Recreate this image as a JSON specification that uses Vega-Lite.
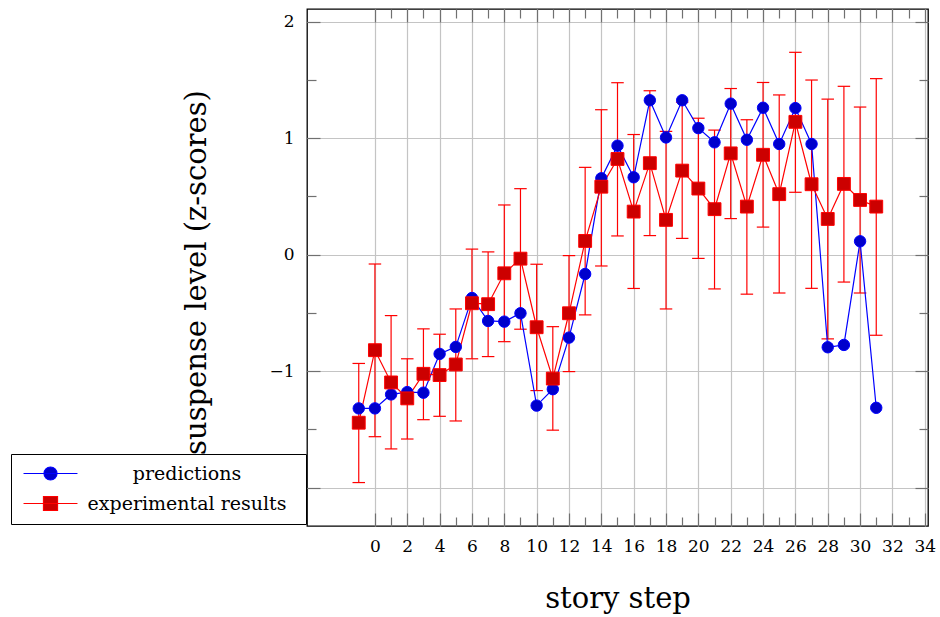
{
  "$schema": "https://vega.github.io/schema/vega-lite/v6.json",
  "width": 621,
  "height": 517,
  "autosize": {"type": "none"},
  "padding": {"left": 307, "top": 9, "right": 12, "bottom": 91},
  "background": "white",
  "data": {
    "values": [
      {"step": -1, "series": "predictions", "value": -1.32},
      {"step": 0, "series": "predictions", "value": -1.32},
      {"step": 1, "series": "predictions", "value": -1.2},
      {"step": 2, "series": "predictions", "value": -1.18},
      {"step": 3, "series": "predictions", "value": -1.185},
      {"step": 4, "series": "predictions", "value": -0.852},
      {"step": 5, "series": "predictions", "value": -0.792},
      {"step": 6, "series": "predictions", "value": -0.372},
      {"step": 7, "series": "predictions", "value": -0.569},
      {"step": 8, "series": "predictions", "value": -0.575},
      {"step": 9, "series": "predictions", "value": -0.503},
      {"step": 10, "series": "predictions", "value": -1.296},
      {"step": 11, "series": "predictions", "value": -1.155},
      {"step": 12, "series": "predictions", "value": -0.712},
      {"step": 13, "series": "predictions", "value": -0.166},
      {"step": 14, "series": "predictions", "value": 0.656},
      {"step": 15, "series": "predictions", "value": 0.936},
      {"step": 16, "series": "predictions", "value": 0.665},
      {"step": 17, "series": "predictions", "value": 1.326},
      {"step": 18, "series": "predictions", "value": 1.007},
      {"step": 19, "series": "predictions", "value": 1.326},
      {"step": 20, "series": "predictions", "value": 1.087},
      {"step": 21, "series": "predictions", "value": 0.965},
      {"step": 22, "series": "predictions", "value": 1.297},
      {"step": 23, "series": "predictions", "value": 0.987},
      {"step": 24, "series": "predictions", "value": 1.262},
      {"step": 25, "series": "predictions", "value": 0.951},
      {"step": 26, "series": "predictions", "value": 1.259},
      {"step": 27, "series": "predictions", "value": 0.951},
      {"step": 28, "series": "predictions", "value": -0.795},
      {"step": 29, "series": "predictions", "value": -0.775},
      {"step": 30, "series": "predictions", "value": 0.115},
      {"step": 31, "series": "predictions", "value": -1.315},
      {"step": -1, "series": "experimental results", "value": -1.443, "lo": -1.957, "hi": -0.934},
      {"step": 0, "series": "experimental results", "value": -0.82, "lo": -1.563, "hi": -0.08},
      {"step": 1, "series": "experimental results", "value": -1.097, "lo": -1.668, "hi": -0.523},
      {"step": 2, "series": "experimental results", "value": -1.234, "lo": -1.583, "hi": -0.894},
      {"step": 3, "series": "experimental results", "value": -1.023, "lo": -1.417, "hi": -0.637},
      {"step": 4, "series": "experimental results", "value": -1.034, "lo": -1.388, "hi": -0.683},
      {"step": 5, "series": "experimental results", "value": -0.943, "lo": -1.428, "hi": -0.466},
      {"step": 6, "series": "experimental results", "value": -0.417, "lo": -0.894, "hi": 0.048},
      {"step": 7, "series": "experimental results", "value": -0.425, "lo": -0.875, "hi": 0.024},
      {"step": 8, "series": "experimental results", "value": -0.16, "lo": -0.747, "hi": 0.427},
      {"step": 9, "series": "experimental results", "value": -0.034, "lo": -0.64, "hi": 0.567},
      {"step": 10, "series": "experimental results", "value": -0.623, "lo": -1.167, "hi": -0.082},
      {"step": 11, "series": "experimental results", "value": -1.064, "lo": -1.507, "hi": -0.618},
      {"step": 12, "series": "experimental results", "value": -0.503, "lo": -1.004, "hi": -0.008},
      {"step": 13, "series": "experimental results", "value": 0.118, "lo": -0.517, "hi": 0.75},
      {"step": 14, "series": "experimental results", "value": 0.584, "lo": -0.097, "hi": 1.245},
      {"step": 15, "series": "experimental results", "value": 0.822, "lo": 0.161, "hi": 1.477},
      {"step": 16, "series": "experimental results", "value": 0.37, "lo": -0.29, "hi": 1.032},
      {"step": 17, "series": "experimental results", "value": 0.786, "lo": 0.164, "hi": 1.408},
      {"step": 18, "series": "experimental results", "value": 0.299, "lo": -0.466, "hi": 1.059},
      {"step": 19, "series": "experimental results", "value": 0.722, "lo": 0.14, "hi": 1.31},
      {"step": 20, "series": "experimental results", "value": 0.568, "lo": -0.032, "hi": 1.172},
      {"step": 21, "series": "experimental results", "value": 0.391, "lo": -0.294, "hi": 1.07},
      {"step": 22, "series": "experimental results", "value": 0.87, "lo": 0.31, "hi": 1.427},
      {"step": 23, "series": "experimental results", "value": 0.413, "lo": -0.339, "hi": 1.159},
      {"step": 24, "series": "experimental results", "value": 0.858, "lo": 0.237, "hi": 1.479},
      {"step": 25, "series": "experimental results", "value": 0.52, "lo": -0.329, "hi": 1.372},
      {"step": 26, "series": "experimental results", "value": 1.141, "lo": 0.536, "hi": 1.738},
      {"step": 27, "series": "experimental results", "value": 0.605, "lo": -0.289, "hi": 1.5},
      {"step": 28, "series": "experimental results", "value": 0.307, "lo": -0.723, "hi": 1.336},
      {"step": 29, "series": "experimental results", "value": 0.608, "lo": -0.235, "hi": 1.446},
      {"step": 30, "series": "experimental results", "value": 0.47, "lo": -0.329, "hi": 1.268},
      {"step": 31, "series": "experimental results", "value": 0.413, "lo": -0.692, "hi": 1.512}
    ]
  },
  "resolve": {"axis": {"x": "independent", "y": "independent"}},
  "layer": [
    {
      "transform": [{"filter": "datum.series === 'experimental results'"}],
      "mark": {"type": "rule", "color": "#ff0000", "strokeWidth": 1.2},
      "encoding": {
        "x": {"field": "step", "type": "quantitative",
          "scale": {"domain": [-4.2, 34.2], "nice": false, "zero": false},
          "axis": {"orient": "bottom", "values": [0,2,4,6,8,10,12,14,16,18,20,22,24,26,28,30,32,34], "grid": true, "tickSize": -13, "labelPadding": 25, "labelFlush": false, "labelOverlap": false, "title": "story step", "titleY": 81, "titleBaseline": "alphabetic"}},
        "y": {"field": "lo", "type": "quantitative",
          "scale": {"domain": [-2.33, 2.11], "nice": false, "zero": false},
          "axis": {"orient": "left", "values": [-2,-1,0,1,2], "grid": true, "tickSize": -13, "labelPadding": 26, "labelFlush": false, "labelOverlap": false, "labelExpr": "datum.value === -2 ? '' : datum.label", "title": "suspense level (z-scores)", "titleX": -102, "titleY": 263, "titleBaseline": "alphabetic", "titleAngle": 270}},
        "y2": {"field": "hi"}
      }
    },
    {
      "transform": [{"filter": "datum.series === 'experimental results'"}],
      "mark": {"type": "tick", "orient": "horizontal", "color": "#ff0000", "size": 12.5, "thickness": 1.2, "opacity": 1},
      "encoding": {
        "x": {"field": "step", "type": "quantitative",
          "scale": {"domain": [-4.2, 34.2], "nice": false, "zero": false},
          "axis": {"orient": "bottom", "values": [1,3,5,7,9,11,13,15,17,19,21,23,25,27,29,31,33], "grid": false, "labels": false, "tickSize": -9, "title": null}},
        "y": {"field": "hi", "type": "quantitative",
          "scale": {"domain": [-2.33, 2.11], "nice": false, "zero": false},
          "axis": {"orient": "left", "values": [-1.5,-0.5,0.5,1.5], "grid": false, "labels": false, "tickSize": -9, "title": null}}
      }
    },
    {
      "transform": [{"filter": "datum.series === 'experimental results'"}],
      "mark": {"type": "tick", "orient": "horizontal", "color": "#ff0000", "size": 12.5, "thickness": 1.2, "opacity": 1},
      "encoding": {
        "x": {"field": "step", "type": "quantitative",
          "scale": {"domain": [-4.2, 34.2], "nice": false, "zero": false},
          "axis": {"orient": "top", "values": [0,2,4,6,8,10,12,14,16,18,20,22,24,26,28,30,32,34], "grid": false, "labels": false, "tickSize": -13, "title": null}},
        "y": {"field": "lo", "type": "quantitative",
          "scale": {"domain": [-2.33, 2.11], "nice": false, "zero": false},
          "axis": {"orient": "right", "values": [-2,-1,0,1,2], "grid": false, "labels": false, "tickSize": -13, "title": null}}
      }
    },
    {
      "mark": {"type": "line", "strokeWidth": 1.2},
      "encoding": {
        "x": {"field": "step", "type": "quantitative",
          "scale": {"domain": [-4.2, 34.2], "nice": false, "zero": false},
          "axis": {"orient": "top", "values": [1,3,5,7,9,11,13,15,17,19,21,23,25,27,29,31,33], "grid": false, "labels": false, "tickSize": -9, "title": null}},
        "y": {"field": "value", "type": "quantitative",
          "scale": {"domain": [-2.33, 2.11], "nice": false, "zero": false},
          "axis": {"orient": "right", "values": [-1.5,-0.5,0.5,1.5], "grid": false, "labels": false, "tickSize": -9, "title": null}},
        "color": {"field": "series", "type": "nominal",
          "scale": {"domain": ["predictions", "experimental results"], "range": ["#0000ff", "#ff0000"]},
          "legend": {
            "orient": "none", "legendX": -296, "legendY": 445, "title": null,
            "strokeColor": "black", "fillColor": "white", "padding": 10,
            "symbolSize": 169, "symbolOffset": 20, "symbolStrokeWidth": 1.2,
            "labelOffset": 127, "labelAlign": "center", "labelFontSize": 19, "labelFont": "DejaVu Serif", "labelColor": "black", "labelLimit": 400,
            "rowPadding": 10,
            "encode": {
              "symbols": {
                "update": {
                  "shape": {"signal": "datum.value === 'predictions' ? 'M-4.15,0H4.15M1,0A1,1 0 1,0 -1,0A1,1 0 1,0 1,0ZM37.4,0' : 'M-4.15,0H4.15M-1.08,-1.08H1.08V1.08H-1.08ZM37.4,0'"},
                  "fill": {"signal": "datum.value === 'predictions' ? '#0000cc' : '#cc0000'"},
                  "stroke": {"signal": "datum.value === 'predictions' ? '#0000ff' : '#ff0000'"},
                  "strokeWidth": {"value": 1.2},
                  "opacity": {"value": 1}
                }
              }
            }
          }}
      }
    },
    {
      "transform": [{"filter": "datum.series === 'predictions'"}],
      "mark": {"type": "point", "shape": "circle", "filled": true, "size": 130, "fill": "#0000cc", "stroke": "#0000ff", "strokeWidth": 1, "opacity": 1},
      "encoding": {
        "x": {"field": "step", "type": "quantitative", "scale": {"domain": [-4.2, 34.2], "nice": false, "zero": false}, "axis": null},
        "y": {"field": "value", "type": "quantitative", "scale": {"domain": [-2.33, 2.11], "nice": false, "zero": false}, "axis": null}
      }
    },
    {
      "transform": [{"filter": "datum.series === 'experimental results'"}],
      "mark": {"type": "point", "shape": "square", "filled": true, "size": 165, "fill": "#cc0000", "stroke": "#ff0000", "strokeWidth": 1, "opacity": 1},
      "encoding": {
        "x": {"field": "step", "type": "quantitative", "scale": {"domain": [-4.2, 34.2], "nice": false, "zero": false}, "axis": null},
        "y": {"field": "value", "type": "quantitative", "scale": {"domain": [-2.33, 2.11], "nice": false, "zero": false}, "axis": null}
      }
    }
  ],
  "config": {
    "font": "DejaVu Serif",
    "view": {"stroke": "black", "strokeWidth": 1.3},
    "axis": {
      "domain": false,
      "labelFont": "DejaVu Serif", "labelFontSize": 17, "labelColor": "black",
      "tickColor": "#707070", "tickWidth": 1.2,
      "gridColor": "#c4c4c4", "gridWidth": 1.2, "gridOpacity": 1,
      "titleFont": "DejaVu Serif", "titleFontSize": 29, "titleFontWeight": "normal", "titleColor": "black"
    }
  }
}
